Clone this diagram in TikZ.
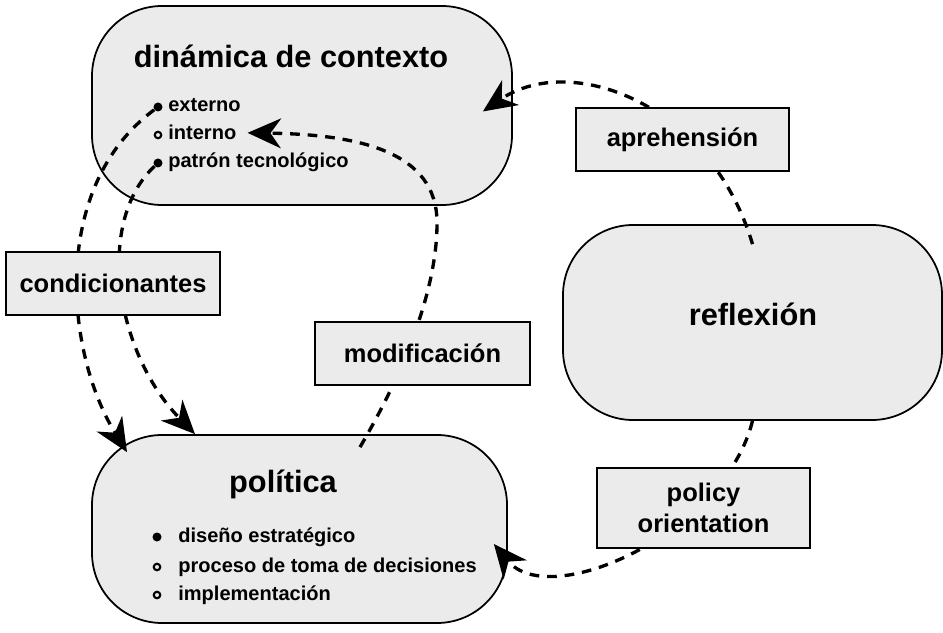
\documentclass[tikz,border=0pt]{standalone}
\usepackage{fontspec}
\setmainfont{Liberation Sans}
\usetikzlibrary{arrows.meta, calc}
\definecolor{stipple}{gray}{0.92}

\begin{document}
\begin{tikzpicture}[
    bigbox/.style={draw, line width=1pt, fill=stipple, rounded corners=1.4cm},
    labelbox/.style={draw, line width=1pt, fill=stipple, minimum height=1.26cm, align=center,
                     font=\fontsize{14.5}{17.4}\selectfont\bfseries},
    bigtitle/.style={anchor=base, inner sep=0pt, font=\fontsize{17.5}{21}\selectfont\bfseries},
    itemtext/.style={anchor=base west, inner sep=0pt, font=\fontsize{11.4}{13.7}\selectfont\bfseries},
    fullbullet/.style={circle, fill, inner sep=0pt, minimum size=1.8mm},
    openbullet/.style={circle, draw, line width=1.2pt, fill=stipple, inner sep=0pt, minimum size=1.3mm},
    flow/.style={line width=1.9pt, dash pattern=on 5.5pt off 4.5pt,
                 -{Stealth[length=19pt, width=17pt, inset=6pt]}}
]
    \useasboundingbox (0,0) rectangle (18.86,12.64);

    % main blocks
    \node[bigbox, minimum width=8.4cm, minimum height=3.98cm] (ctx) at (6.04,10.53) {};
    \node[bigbox, minimum width=7.58cm, minimum height=3.9cm] (refl) at (15.05,6.19) {};
    \node[bigbox, minimum width=8.3cm, minimum height=3.76cm] (pol) at (5.99,2.06) {};

    \node[bigtitle] (ctxtitle) at (5.82,11.28) {dinámica de contexto};
    \node[bigtitle] (refltitle) at (15.06,6.14) {reflexión};
    \node[bigtitle] (poltitle) at (5.66,2.8) {política};

    % items
    \node[fullbullet] (extb) at (3.16,10.5) {};
    \node[openbullet] (intb) at (3.16,9.94) {};
    \node[fullbullet] (patb) at (3.16,9.38) {};
    \node[itemtext] (ext) at (3.36,10.4) {externo};
    \node[itemtext] (intn) at (3.36,9.84) {interno};
    \node[itemtext] (pat) at (3.36,9.28) {patrón tecnológico};

    \node[fullbullet] (disb) at (3.14,1.9) {};
    \node[openbullet] (procb) at (3.14,1.3) {};
    \node[openbullet] (implb) at (3.14,0.74) {};
    \node[itemtext] (dis) at (3.56,1.8) {diseño estratégico};
    \node[itemtext] (proc) at (3.56,1.2) {proceso de toma de decisiones};
    \node[itemtext] (impl) at (3.56,0.64) {implementación};

    % connectors
    \draw[flow] ($(refl.north)+(0,-0.4)$) .. controls (14.2,10.6) and (11.4,11.6) .. ($(ctx.east)+(-0.6,-0.12)$);
    \draw[flow] (refl.south) .. controls (14.5,2.0) and (11.0,0.4) .. ($(pol.east)+(-0.28,-0.3)$);
    \draw[flow] (extb) .. controls (1.0,8.9) and (1.3,5.6) .. ($(pol.north)+(-3.45,-0.36)$);
    \draw[flow] (patb) .. controls (1.9,8.2) and (2.3,5.6) .. ($(pol.north)+(-2.09,0)$);
    \draw[flow] ($(pol.north)+(1.21,-0.26)$) .. controls (8.2,5.4) and (8.75,7.0) .. (8.74,8.2)
        .. controls (8.73,9.6) and (7.2,9.95) .. ([xshift=0.22cm]intn.east);

    % labels
    \node[labelbox, minimum width=4.26cm] (aph) at (13.65,9.85) {aprehensión};
    \node[labelbox, minimum width=4.28cm] (cond) at (2.26,6.97) {condicionantes};
    \node[labelbox, minimum width=4.3cm] (modif) at (8.45,5.57) {modificación};
    \node[labelbox, minimum width=4.26cm, minimum height=1.6cm] (polor) at (14.07,2.48) {policy\\orientation};
\end{tikzpicture}
\end{document}
